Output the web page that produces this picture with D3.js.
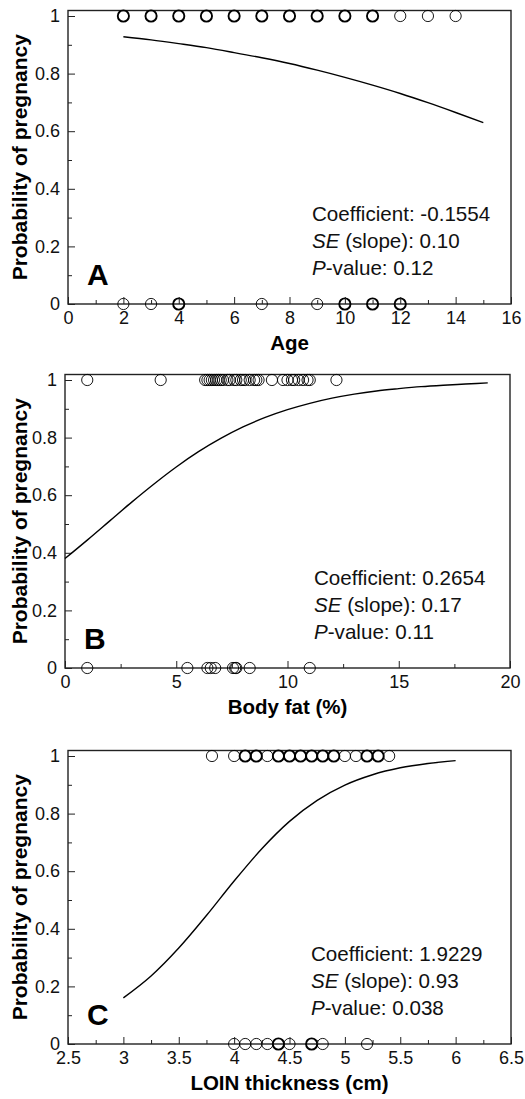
<!DOCTYPE html>
<html>
<head>
<meta charset="utf-8">
<script src="https://cdn.jsdelivr.net/npm/d3@7"></script>
<style>
  body { margin: 0; background: #fff; }
  svg { display: block; font-family: "Liberation Sans", Arial, sans-serif; }
</style>
</head>
<body>
<div class="chart"></div>
<script>
/* observations (x value of each animal), split by outcome */
const ageYes = [2, 2, 3, 3, 4, 4, 5, 5, 6, 6, 7, 7, 8, 8, 9, 9, 10, 10, 11, 11, 12, 13, 14];
const ageNo = [2, 3, 4, 4, 7, 9, 10, 10, 11, 11, 12, 12];
const fatYes = [1.0, 4.3, 6.3, 6.4, 6.5, 6.6, 6.7, 6.8, 6.9, 7.0, 7.1, 7.3, 7.4, 7.6, 7.7, 7.9,
                8.0, 8.1, 8.3, 8.5, 8.6, 8.7, 9.3, 9.8, 10.0, 10.2, 10.3, 10.5, 10.7, 10.9, 11.0, 12.2];
const fatNo = [1.0, 5.5, 6.4, 6.55, 6.75, 7.55, 7.65, 7.7, 8.3, 11.0];
const loinYes = [3.8, 4.0, 4.1, 4.1, 4.2, 4.2, 4.3, 4.4, 4.4, 4.5, 4.5, 4.6, 4.6, 4.7, 4.7,
                 4.8, 4.8, 4.9, 4.9, 5.0, 5.1, 5.2, 5.2, 5.3, 5.3, 5.4];
const loinNo = [4.0, 4.1, 4.2, 4.3, 4.4, 4.4, 4.5, 4.7, 4.7, 4.8, 5.2];

/* fitted logistic curves */
const ageFitX = [2, 3, 4, 5, 6, 7, 8, 9, 10, 11, 12, 13, 14, 15];
const ageFitP = [0.928, 0.917, 0.904, 0.890, 0.873, 0.855, 0.835, 0.812, 0.787, 0.760, 0.731, 0.699, 0.665, 0.630];
const fatFitX = [0, 1, 2, 3, 4, 5, 6, 7, 8, 9, 10, 11, 12, 13, 14, 15, 16, 17, 18, 19];
const fatFitP = [0.380, 0.444, 0.510, 0.576, 0.639, 0.698, 0.751, 0.797, 0.837, 0.870,
                 0.897, 0.919, 0.937, 0.951, 0.962, 0.970, 0.977, 0.982, 0.986, 0.990];
const loinFitX = [3.0, 3.25, 3.5, 3.75, 4.0, 4.25, 4.5, 4.75, 5.0, 5.25, 5.5, 5.75, 6.0];
const loinFitP = [0.160, 0.236, 0.333, 0.446, 0.566, 0.678, 0.773, 0.846, 0.899, 0.935, 0.959, 0.974, 0.984];

const panelLetters = ["A", "B", "C"];
const xTitles = ["Age", "Body fat (%)", "LOIN thickness (cm)"];
const coefTexts = ["-0.1554", "0.2654", "1.9229"];
const seTexts = ["0.10", "0.17", "0.93"];
const pTexts = ["0.12", "0.11", "0.038"];
const yTitle = "Probability of pregnancy";

const width = 525, height = 1099;
const svg = d3.select(".chart").append("svg")
    .attr("width", width)
    .attr("height", height);

const panels = [
    { yes: ageYes, no: ageNo, fitX: ageFitX, fitP: ageFitP, domain: [0, 16],
      major: 2, minor: 1, left: 68, right: 511, y1: 16, y0: 304, textX: 312 },
    { yes: fatYes, no: fatNo, fitX: fatFitX, fitP: fatFitP, domain: [0, 20],
      major: 5, minor: 2.5, left: 65, right: 510, y1: 380, y0: 668, textX: 314 },
    { yes: loinYes, no: loinNo, fitX: loinFitX, fitP: loinFitP, domain: [2.5, 6.5],
      major: 0.5, minor: 0.25, left: 68, right: 511, y1: 756, y0: 1044, textX: 311 }
];

panels.forEach((p, i) => drawPanel(p, i));

function drawPanel(p, i) {
    const x = d3.scaleLinear().domain(p.domain).range([p.left, p.right]);
    const y = d3.scaleLinear().domain([0, 1]).range([p.y0, p.y1]);
    const boxTop = p.y1 - 5.5;
    const g = svg.append("g");

    const majorX = d3.range(p.domain[0], p.domain[1] + 1e-9, p.major);
    const minorX = d3.range(p.domain[0], p.domain[1] + 1e-9, p.minor)
        .filter(v => !majorX.some(m => Math.abs(m - v) < 1e-9));
    const majorY = d3.range(0, 1.0001, 0.2);
    const minorY = d3.range(0.1, 1, 0.2);

    // frame
    g.append("rect")
        .attr("x", p.left).attr("y", boxTop)
        .attr("width", p.right - p.left).attr("height", p.y0 - boxTop)
        .attr("fill", "none").attr("stroke", "#222").attr("stroke-width", 1.4);

    // observations: grouped so repeated values get a heavier ring
    const drawDots = (vals, outcome) => {
        const counts = d3.rollups(vals, v => v.length, d => d);
        g.selectAll(null)
            .data(counts)
            .enter().append("circle")
            .attr("cx", d => x(d[0]))
            .attr("cy", y(outcome))
            .attr("r", 5.6)
            .attr("fill", "none")
            .attr("stroke", "#000")
            .attr("stroke-width", d => d[1] > 1 ? 1.9 : 0.9);
    };
    drawDots(p.yes, 1);
    drawDots(p.no, 0);

    // ticks pointing inward
    const xAxis = d3.axisBottom(x).tickValues(majorX).tickSize(-7).tickPadding(7)
        .tickFormat(d3.format("~g"));
    const xMinor = d3.axisBottom(x).tickValues(minorX).tickSize(-4).tickFormat("");
    const yAxis = d3.axisLeft(y).tickValues(majorY).tickSize(-7).tickPadding(8)
        .tickFormat(d3.format("~g"));
    const yMinor = d3.axisLeft(y).tickValues(minorY).tickSize(-4).tickFormat("");

    [[xAxis, "bottom"], [xMinor, "bottom"], [yAxis, "left"], [yMinor, "left"]].forEach(([ax, side]) => {
        const a = g.append("g")
            .attr("transform", side === "bottom" ? `translate(0,${p.y0})` : `translate(${p.left},0)`)
            .call(ax);
        a.select(".domain").remove();
        a.selectAll("line").attr("stroke", "#222").attr("stroke-width", 1);
        a.selectAll("text")
            .attr("fill", "#111")
            .style("font-size", "18px")
            .style("font-family", '"Liberation Sans", Arial, sans-serif');
    });

    // fitted curve
    const fit = p.fitX.map((v, k) => [v, p.fitP[k]]);
    g.append("path")
        .datum(fit)
        .attr("fill", "none")
        .attr("stroke", "#000")
        .attr("stroke-width", 1.4)
        .attr("d", d3.line().x(d => x(d[0])).y(d => y(d[1])).curve(d3.curveMonotoneX));

    // panel letter
    g.append("text")
        .attr("x", p.left + 19).attr("y", p.y0 - 19)
        .style("font-size", "30px").style("font-weight", "bold")
        .text(panelLetters[i]);

    // stats block
    const stats = g.append("text")
        .attr("x", p.textX).attr("y", p.y0 - 83)
        .style("font-size", "20.6px").attr("fill", "#111");
    stats.append("tspan").attr("x", p.textX).text("Coefficient: " + coefTexts[i]);
    const se = stats.append("tspan").attr("x", p.textX).attr("dy", 27);
    se.append("tspan").style("font-style", "italic").text("SE");
    se.append("tspan").text(" (slope): " + seTexts[i]);
    const pv = stats.append("tspan").attr("x", p.textX).attr("dy", 27);
    pv.append("tspan").style("font-style", "italic").text("P");
    pv.append("tspan").text("-value: " + pTexts[i]);

    // axis titles
    g.append("text")
        .attr("x", (p.left + p.right) / 2).attr("y", p.y0 + 46)
        .attr("text-anchor", "middle")
        .style("font-size", "20.5px").style("font-weight", "bold")
        .text(xTitles[i]);

    g.append("text")
        .attr("transform", `translate(27,${(boxTop + p.y0) / 2}) rotate(-90)`)
        .attr("text-anchor", "middle")
        .style("font-size", "21px").style("font-weight", "bold")
        .text(yTitle);
}
</script>
</body>
</html>
